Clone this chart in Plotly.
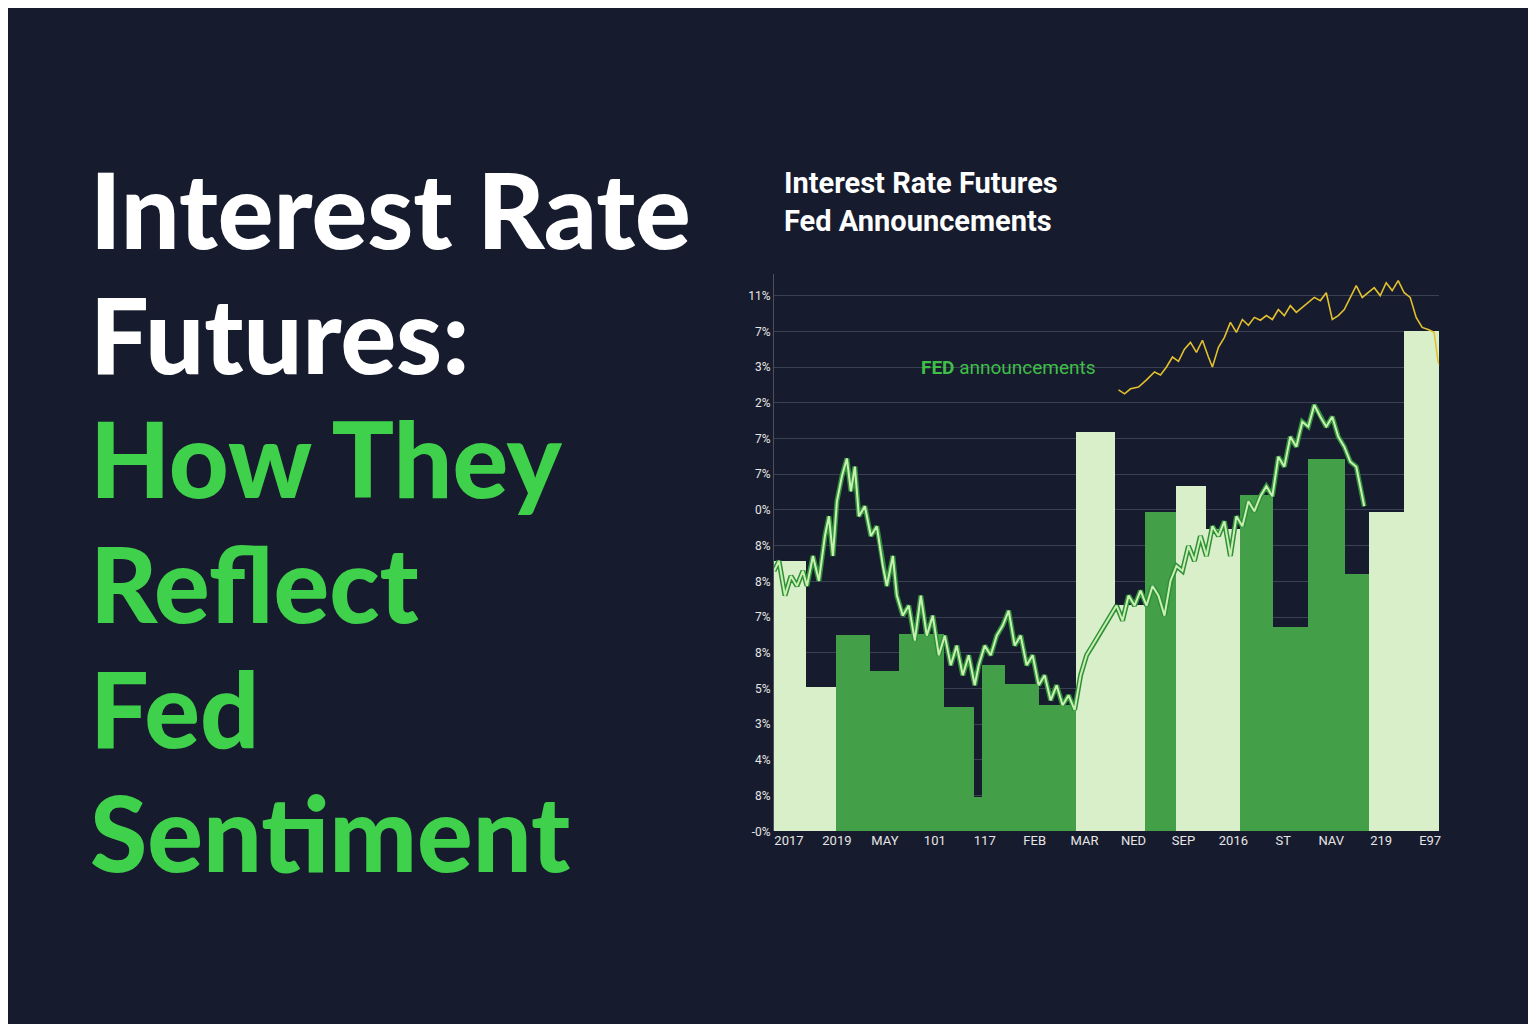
import plotly.graph_objects as go

# bars: start/end day and level (%)
bar_start = [0, 32, 62, 96, 125, 170, 200, 208, 231, 265, 302, 341, 371, 403, 433, 467, 500, 535, 572, 596, 631]
bar_end = [32, 62, 96, 125, 170, 200, 208, 231, 265, 302, 341, 371, 403, 433, 467, 500, 535, 572, 596, 631, 666]
bar_level = [7.57, 4.04, 5.48, 4.48, 5.51, 3.48, 0.95, 4.65, 4.12, 3.53, 11.19, 6.32, 8.93, 9.66, 8.46, 9.41, 5.73, 10.41, 7.21, 8.93, 14.0]
bar_tone = ["light", "light", "green", "green", "green", "green", "green", "green", "green", "green",
            "light", "light", "green", "light", "light", "green", "green", "green", "green", "light", "light"]

# futures price path
px_day = [0, 5, 11, 17, 23, 29, 33, 39, 45, 51, 55, 59, 63, 68, 73, 77, 81, 85, 91, 97, 103, 109, 113, 119,
          123, 129, 135, 141, 147, 153, 159, 165, 171, 177, 183, 189, 195, 201, 205, 211, 217, 223, 229, 235,
          241, 247, 253, 259, 265, 271, 277, 283, 289, 295, 301, 307, 313, 319, 325, 331, 337, 343, 349, 355,
          361, 367, 373, 379, 385, 391, 397, 403, 409, 415, 421, 427, 433, 439, 445, 451, 457, 463, 469, 475,
          481, 487, 493, 499, 505, 511, 517, 523, 529, 535, 541, 547, 553, 559, 565, 571, 577, 583, 587, 591]
px_level = [7.29, 7.57, 6.60, 7.15, 6.87, 7.29, 6.87, 7.71, 7.01, 8.27, 8.82, 7.71, 9.24, 9.94, 10.44, 9.52,
            10.21, 8.82, 9.10, 8.27, 8.54, 7.43, 6.87, 7.71, 6.60, 6.04, 6.32, 5.34, 6.60, 5.48, 6.04, 4.93,
            5.48, 4.65, 5.20, 4.37, 4.93, 4.09, 4.65, 5.20, 4.93, 5.48, 5.76, 6.18, 5.20, 5.48, 4.65, 4.93,
            4.09, 4.37, 3.67, 4.09, 3.53, 3.81, 3.40, 4.37, 4.93, 5.20, 5.48, 5.76, 6.04, 6.32, 5.90, 6.60,
            6.32, 6.74, 6.32, 6.87, 6.60, 6.04, 7.01, 7.43, 7.29, 7.99, 7.57, 8.27, 7.71, 8.54, 8.27, 8.68,
            7.71, 8.82, 8.54, 9.24, 8.96, 9.38, 9.66, 9.38, 10.49, 10.21, 11.05, 10.77, 11.47, 11.33, 11.94,
            11.61, 11.33, 11.61, 11.05, 10.77, 10.35, 10.21, 9.66, 9.10]

# yield / expectations line
yl_day = [345, 351, 357, 365, 373, 381, 387, 393, 399, 405, 411, 417, 423, 429, 435, 439, 445, 451, 457, 463,
          469, 475, 481, 487, 493, 499, 505, 511, 517, 523, 529, 535, 541, 547, 553, 559, 565, 571, 577, 583,
          589, 595, 601, 607, 613, 619, 625, 631, 637, 643, 649, 655, 661, 665, 668]
yl_level = [12.36, 12.25, 12.39, 12.44, 12.64, 12.86, 12.78, 13.0, 13.28, 13.16, 13.5, 13.69, 13.41, 13.75,
            13.28, 13.0, 13.55, 13.83, 14.25, 13.97, 14.33, 14.17, 14.39, 14.31, 14.44, 14.33, 14.61, 14.44,
            14.72, 14.53, 14.67, 14.81, 14.95, 14.86, 15.08, 14.33, 14.44, 14.61, 14.95, 15.28, 14.95, 15.08,
            15.22, 15.0, 15.36, 15.14, 15.42, 15.08, 14.95, 14.39, 14.11, 14.05, 13.97, 13.14, 13.0]

y_ticks = list(range(16))
y_text = ["-0%", "8%", "4%", "3%", "5%", "8%", "7%", "8%", "8%", "0%", "7%", "7%", "2%", "3%", "7%", "11%"]
x_ticks = [15, 63, 111, 161, 211, 261, 311, 360, 410, 460, 510, 558, 608, 657]
x_text = ["2017", "2019", "MAY", "101", "117", "FEB", "MAR", "NED", "SEP", "2016", "ST", "NAV", "219", "E97"]

bg = "#161b2d"
light = "#d8efc9"
green = "#43a049"
off = 8  # page margin of the html body

fig = go.Figure()
fig.add_trace(go.Bar(
    x=[(s + e) / 2 for s, e in zip(bar_start, bar_end)],
    y=bar_level,
    width=[e - s for s, e in zip(bar_start, bar_end)],
    marker=dict(color=[light if t == "light" else green for t in bar_tone], line=dict(width=0)),
    showlegend=False))
fig.add_trace(go.Scatter(x=px_day, y=px_level, mode="lines",
                         line=dict(color="#2f8f3a", width=5), showlegend=False))
fig.add_trace(go.Scatter(x=px_day, y=px_level, mode="lines",
                         line=dict(color="#c9f0b0", width=2), showlegend=False))
fig.add_trace(go.Scatter(x=yl_day, y=yl_level, mode="lines",
                         line=dict(color="#e3c02e", width=1.6), showlegend=False))

fig.update_xaxes(range=[0, 666], tickvals=x_ticks, ticktext=x_text, showgrid=False,
                 zeroline=False, tickfont=dict(color="#e6e6e6", size=13, family="Roboto"),
                 domain=[(775 - off) / 1536, (1441 - off) / 1536])
fig.update_yaxes(range=[0, 15.6], tickvals=y_ticks, ticktext=y_text, gridcolor="#3a4152",
                 zeroline=False, showline=True, linecolor="#4a5060",
                 tickfont=dict(color="#e6e6e6", size=12, family="Roboto"),
                 domain=[1 - (837 - off) / 1024, 1 - (276 - off) / 1024])

title_lines = [("Interest Rate", "white"), ("Futures:", "white"), ("How They", "#3fd04c"),
               ("Reflect", "#3fd04c"), ("Fed", "#3fd04c"), ("Sentiment", "#3fd04c")]
ann = []
for i, (txt, col) in enumerate(title_lines):
    ann.append(dict(text=txt, x=(88 - off) / 1536, y=1 - (210 - off + i * 125.5) / 1024,
                    xref="paper", yref="paper", xanchor="left", yanchor="middle", showarrow=False,
                    font=dict(color=col, size=104, family="Lato", weight=900)))
ann.append(dict(text="<b>Interest Rate Futures<br>Fed Announcements</b>", x=(783 - off) / 1536,
                y=1 - (203 - off) / 1024,
                xref="paper", yref="paper", xanchor="left", yanchor="middle", showarrow=False, align="left",
                font=dict(color="white", size=29, family="Roboto")))
ann.append(dict(text="<b>FED</b> announcements", x=145, y=13.0, xanchor="left", yanchor="middle",
                showarrow=False, font=dict(color="#3fbf48", size=19, family="Roboto")))

fig.update_layout(width=1536, height=1024, paper_bgcolor=bg, plot_bgcolor=bg, bargap=0,
                  margin=dict(l=0, r=0, t=0, b=0), annotations=ann)
fig.write_html("out.html")
